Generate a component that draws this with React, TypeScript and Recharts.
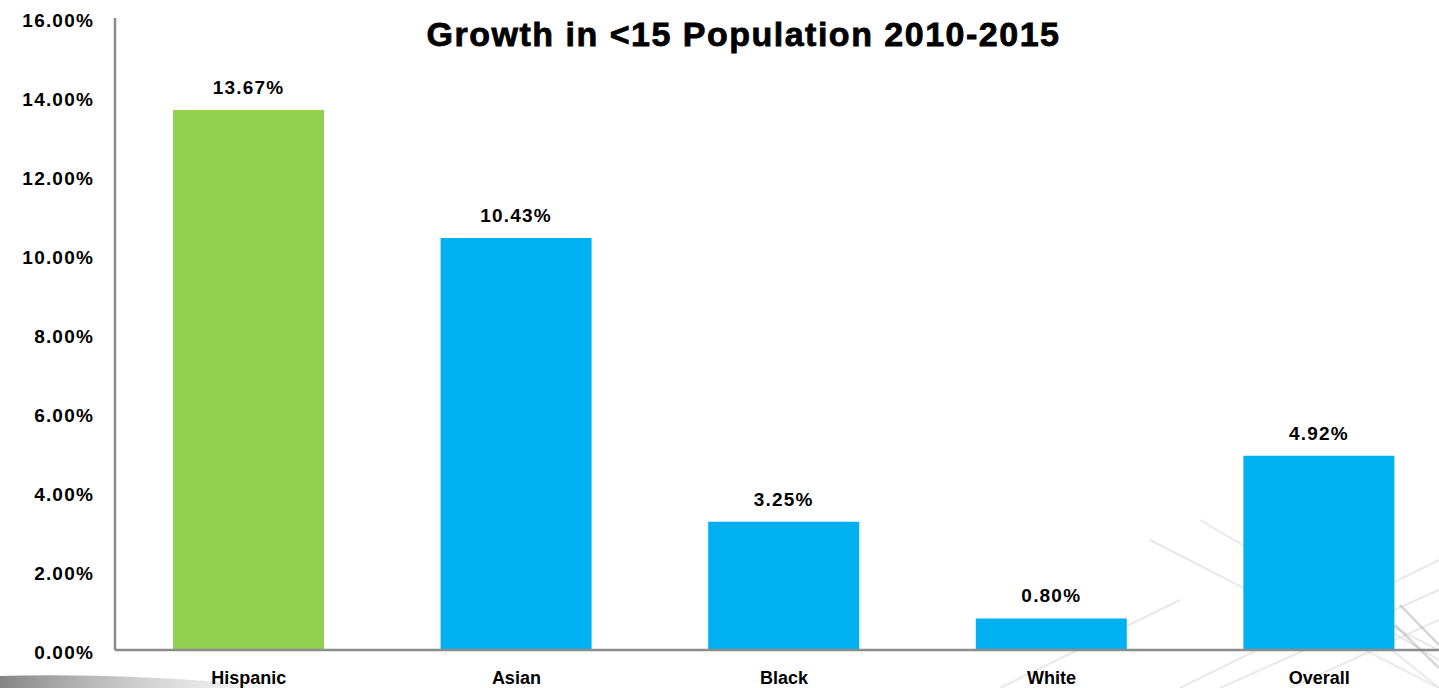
import { BarChart, Bar, XAxis, YAxis, Cell, LabelList } from 'recharts';

const categories = ['Hispanic', 'Asian', 'Black', 'White', 'Overall'];
const growth = [13.67, 10.43, 3.25, 0.8, 4.92];
const yTicks = [0, 2, 4, 6, 8, 10, 12, 14, 16];
const barColors = ['#92d050', '#00b0f0', '#00b0f0', '#00b0f0', '#00b0f0'];

const data = categories.map((name, i) => ({ name, value: growth[i] }));

const labelFont = 'Liberation Sans, Arial, sans-serif';
const numStyle = { fill: '#000', fontSize: 19, fontWeight: 700, fontFamily: labelFont, letterSpacing: 1.2 };

// faint decorative strokes of the slide background (bottom right / bottom left)
function Backdrop() {
  const strokes = [
    [1180, 688, 1439, 560],
    [1220, 688, 1439, 590],
    [1290, 688, 1439, 620],
    [1150, 540, 1439, 688],
    [1200, 520, 1439, 660],
    [1260, 560, 1439, 650],
    [1330, 600, 1439, 688],
    [1000, 688, 1180, 600],
  ];
  return (
    <svg width={1439} height={688} style={{ position: 'absolute', left: 0, top: 0 }}>
      <defs>
        <linearGradient id="smudge" x1="0" y1="0" x2="1" y2="0">
          <stop offset="0" stopColor="#666" stopOpacity={0.8} />
          <stop offset="1" stopColor="#bbb" stopOpacity={0} />
        </linearGradient>
      </defs>
      <path d="M0 676 Q120 672 300 688 L0 688 Z" fill="url(#smudge)" />
      {strokes.map(([x1, y1, x2, y2], i) => (
        <line key={i} x1={x1} y1={y1} x2={x2} y2={y2} stroke="#e4e4e4" strokeWidth={2} opacity={0.8} />
      ))}
      <line x1={1400} y1={605} x2={1439} y2={645} stroke="#aaa" strokeWidth={2.5} opacity={0.5} />
      <line x1={1395} y1={625} x2={1439} y2={668} stroke="#aaa" strokeWidth={2.5} opacity={0.45} />
    </svg>
  );
}

export default function App() {
  return (
    <div
      style={{
        position: 'absolute',
        left: 0,
        top: 0,
        width: 1439,
        height: 688,
        overflow: 'hidden',
        background: '#ffffff',
      }}
    >
      <Backdrop />
      <div
        style={{
          position: 'absolute',
          left: 0,
          width: 1487,
          top: 17,
          textAlign: 'center',
          fontFamily: 'Liberation Sans, Arial, sans-serif',
          fontWeight: 700,
          fontSize: 34,
          lineHeight: '34px',
          letterSpacing: 1.5,
          WebkitTextStroke: '0.8px #000',
          color: '#000',
        }}
      >
        Growth in &lt;15 Population 2010-2015
      </div>
      <div style={{ position: 'absolute', left: 0, top: 0 }}>
        <BarChart
          width={1458}
          height={688}
          data={data}
          margin={{ top: 18, right: 5, bottom: 0, left: 0 }}
          barSize={151}
        >
          <XAxis
            dataKey="name"
            height={38}
            axisLine={{ stroke: '#8c8c8c', strokeWidth: 2.5 }}
            tickLine={false}
            tickSize={0}
            tickMargin={21}
            tick={{ fill: '#000', fontSize: 18, fontWeight: 700, fontFamily: labelFont }}
          />
          <YAxis
            width={115}
            domain={[0, 16]}
            ticks={yTicks}
            interval={0}
            axisLine={{ stroke: '#8c8c8c', strokeWidth: 2.5 }}
            tickLine={false}
            tickSize={0}
            tickMargin={21}
            tickFormatter={(v: number) => `${v.toFixed(2)}%`}
            tick={{ ...numStyle, dy: 2 }}
          />
          <Bar dataKey="value" isAnimationActive={false}>
            {data.map((_, i) => (
              <Cell key={`cell-${i}`} fill={barColors[i]} />
            ))}
            <LabelList
              dataKey="value"
              position="top"
              offset={16}
              formatter={(v: number) => `${v.toFixed(2)}%`}
              style={numStyle}
            />
          </Bar>
        </BarChart>
      </div>
    </div>
  );
}
